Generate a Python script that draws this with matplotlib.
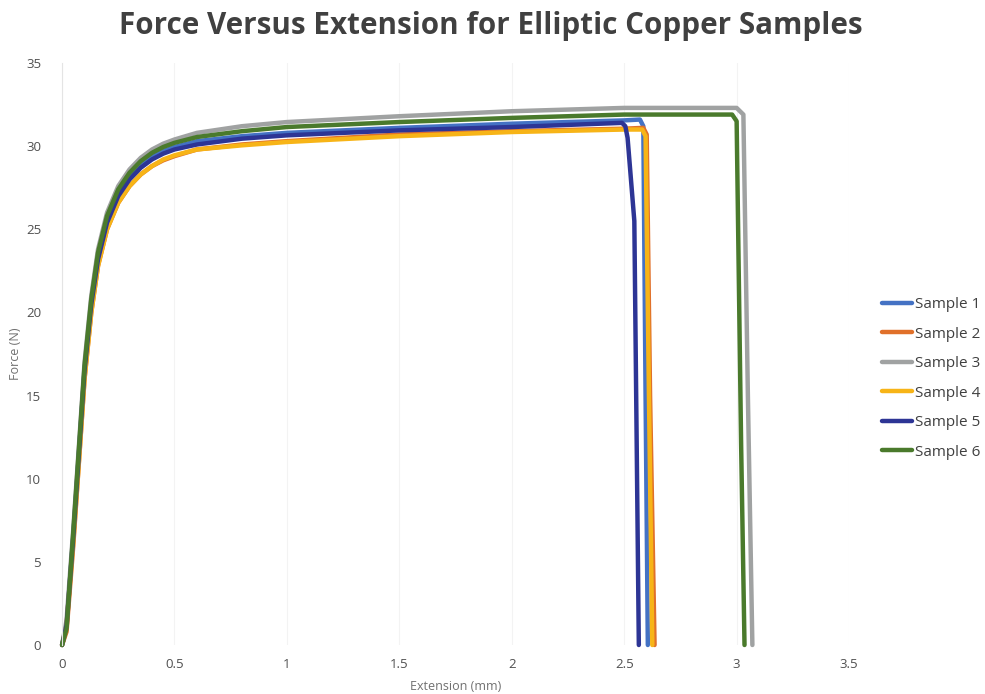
import matplotlib
matplotlib.use('Agg')
import matplotlib.pyplot as plt

# ------------------------------------------------------------------- #
# Force versus extension, elliptic copper samples
# ------------------------------------------------------------------- #

labels = ['Sample 1', 'Sample 2', 'Sample 3', 'Sample 4', 'Sample 5', 'Sample 6']
colours = ['#4472C4', '#E0702A', '#A0A2A2', '#F7B417', '#2D3595', '#4A7A2C']

x_s1 = [0, 0.02, 0.05, 0.08, 0.1, 0.13, 0.16, 0.2, 0.25, 0.3, 0.35, 0.4, 0.45, 0.5, 0.6, 0.8,
        1.0, 1.5, 2.0, 2.5, 2.57, 2.585, 2.595, 2.605]
y_s1 = [0, 1.0, 6.5, 12.5, 16.5, 20.5, 23.3, 25.6, 27.2, 28.2, 28.9, 29.4, 29.7, 29.95, 30.3, 30.6,
        30.8, 31.1, 31.35, 31.55, 31.6, 31.2, 15.0, 0]

x_s2 = [0, 0.02, 0.05, 0.08, 0.1, 0.13, 0.16, 0.2, 0.25, 0.3, 0.35, 0.4, 0.45, 0.5, 0.6, 0.8,
        1.0, 1.5, 2.0, 2.5, 2.585, 2.6, 2.615, 2.635]
y_s2 = [0, 0.8, 6.0, 12.0, 16.0, 20.0, 22.8, 25.0, 26.6, 27.6, 28.3, 28.8, 29.15, 29.4, 29.8, 30.1,
        30.3, 30.7, 30.9, 31.05, 31.1, 30.7, 15.0, 0]

x_s3 = [0, 0.02, 0.05, 0.08, 0.1, 0.13, 0.16, 0.2, 0.25, 0.3, 0.35, 0.4, 0.45, 0.5, 0.6, 0.8,
        1.0, 1.5, 2.0, 2.5, 3.0, 3.03, 3.05, 3.07]
y_s3 = [0, 1.5, 7.0, 13.0, 17.0, 21.0, 23.8, 26.0, 27.6, 28.6, 29.3, 29.8, 30.15, 30.4, 30.8, 31.2,
        31.45, 31.8, 32.1, 32.3, 32.3, 31.9, 15.0, 0]

x_s4 = [0, 0.02, 0.05, 0.08, 0.1, 0.13, 0.16, 0.2, 0.25, 0.3, 0.35, 0.4, 0.45, 0.5, 0.6, 0.8,
        1.0, 1.5, 2.0, 2.5, 2.58, 2.595, 2.61, 2.625]
y_s4 = [0, 1.2, 6.2, 12.0, 16.0, 20.0, 22.8, 25.0, 26.6, 27.6, 28.3, 28.8, 29.2, 29.45, 29.8, 30.05,
        30.25, 30.6, 30.85, 31.0, 31.0, 30.6, 15.0, 0]

x_s5 = [0, 0.02, 0.05, 0.08, 0.1, 0.13, 0.16, 0.2, 0.25, 0.3, 0.35, 0.4, 0.45, 0.5, 0.6, 0.8,
        1.0, 1.5, 2.0, 2.49, 2.505, 2.515, 2.545, 2.565]
y_s5 = [0, 1.2, 6.5, 12.5, 16.5, 20.5, 23.2, 25.4, 27.0, 28.0, 28.7, 29.2, 29.55, 29.8, 30.1, 30.45,
        30.65, 30.95, 31.15, 31.4, 31.2, 30.5, 25.5, 0]

x_s6 = [0, 0.02, 0.05, 0.08, 0.1, 0.13, 0.16, 0.2, 0.25, 0.3, 0.35, 0.4, 0.45, 0.5, 0.6, 0.8,
        1.0, 1.5, 2.0, 2.5, 2.98, 3.0, 3.02, 3.035]
y_s6 = [0, 1.0, 6.8, 12.8, 16.8, 20.8, 23.6, 25.8, 27.4, 28.4, 29.1, 29.6, 29.95, 30.2, 30.55, 30.9,
        31.15, 31.45, 31.7, 31.9, 31.9, 31.5, 12.0, 0]

xs = [x_s1, x_s2, x_s3, x_s4, x_s5, x_s6]
ys = [y_s1, y_s2, y_s3, y_s4, y_s5, y_s6]

x_ticks = [0, 0.5, 1, 1.5, 2, 2.5, 3, 3.5]
x_tick_labels = ['0', '0.5', '1', '1.5', '2', '2.5', '3', '3.5']
y_ticks = [0, 5, 10, 15, 20, 25, 30, 35]

plt.rcParams['font.family'] = ['Open Sans', 'DejaVu Sans']

fig = plt.figure(figsize=(9.85, 6.94), dpi=100)
ax = fig.add_axes([0.063, 0.0706, 0.799, 0.8386])

for i in range(len(labels)):
    ax.plot(xs[i], ys[i], color=colours[i], lw=3.2, label=labels[i],
            solid_joinstyle='round', solid_capstyle='round', clip_on=False)

ax.set_xlim(0, 3.5)
ax.set_ylim(0, 35)
ax.set_xticks(x_ticks)
ax.set_xticklabels(x_tick_labels)
ax.set_yticks(y_ticks)
ax.tick_params(length=0, labelsize=9.5, colors='#505050')
ax.tick_params(axis='y', pad=15)
ax.tick_params(axis='x', pad=9)
for s in ['top', 'right', 'bottom']:
    ax.spines[s].set_visible(False)
ax.spines['left'].set_color('#e4e4e4')
ax.spines['left'].set_linewidth(0.8)
ax.grid(axis='x', color='#f3f3f3', lw=0.8)
ax.set_axisbelow(True)

ax.set_xlabel('Extension (mm)', fontsize=9, color='#707070', labelpad=7)
ax.set_ylabel('Force (N)', fontsize=9, color='#707070', labelpad=3)

fig.text(0.4985, 0.963, 'Force Versus Extension for Elliptic Copper Samples',
         ha='center', va='center', fontsize=21.3, fontweight='bold', color='#404040')

leg = ax.legend(loc='center left', bbox_to_anchor=(1.025, 0.458), frameon=False,
                fontsize=11, handlelength=1.9, handletextpad=0.2, labelspacing=0.95)
for t in leg.get_texts():
    t.set_color('#404040')

plt.savefig('out.png', dpi=100)
